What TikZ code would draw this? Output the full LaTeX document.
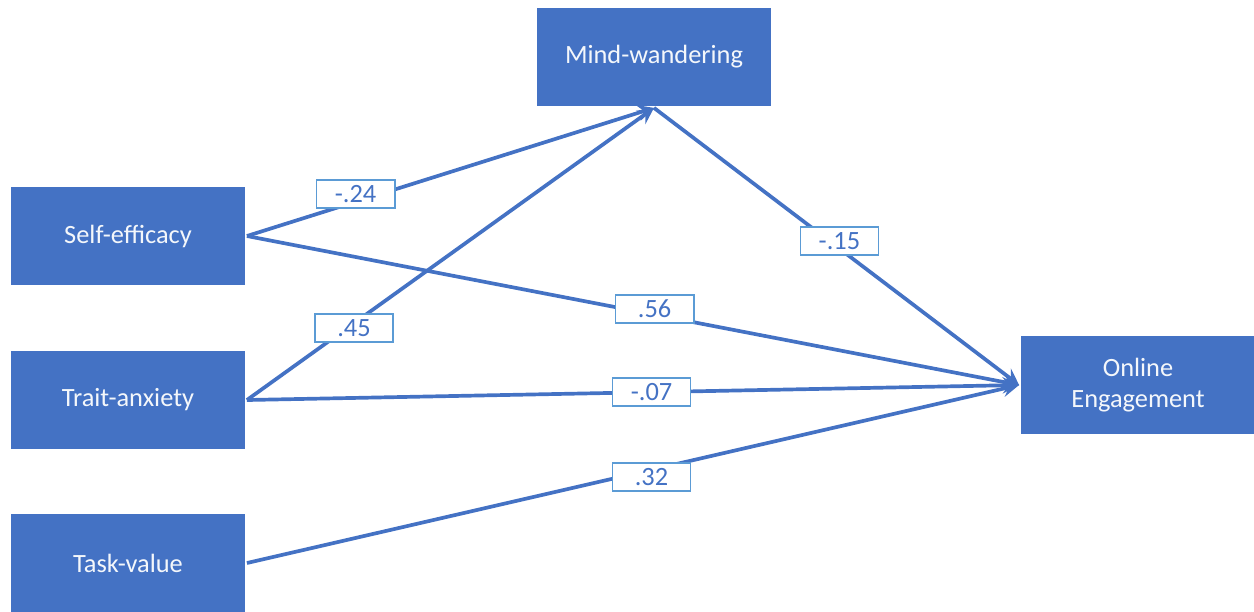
\documentclass[tikz,border=0pt]{standalone}
\usepackage{fontspec}
\setmainfont{Carlito}
\definecolor{boxblue}{RGB}{68,114,196}
\definecolor{lblblue}{RGB}{91,155,213}
\begin{document}
\begin{tikzpicture}[x=0.01cm,y=-0.01cm,>=stealth,line width=1.05pt,
  box/.style={fill=boxblue,draw=none,minimum width=2.34cm,minimum height=0.98cm,
    text=white!94!boxblue,font=\fontsize{7.5}{9}\selectfont,align=center},
  lbl/.style={fill=white,draw=lblblue,line width=0.5pt,minimum width=0.78cm,
    minimum height=0.28cm,inner sep=0pt,text=boxblue,font=\fontsize{7.5}{9}\selectfont}]
  \useasboundingbox (0,0) rectangle (1254,611);

  % 变量方框
  \node[box] (MW) at (654,57) {Mind-wandering};
  \node[box] (SE) at (128,236) {Self-efficacy};
  \node[box] (TA) at (128,400) {Trait-anxiety};
  \node[box] (TV) at (128,563) {Task-value};
  \node[box] (OE) at (1138,385) {Online\\Engagement};

  % 路径及系数
  \draw[->,boxblue] (SE.east) -- node[lbl,pos=0.267,yshift=0.08cm] {-.24} (MW.south);
  \draw[->,boxblue] (TA.east) -- node[lbl,pos=0.263,yshift=-0.05cm] {.45} (MW.south);
  \draw[->,boxblue] (MW.south) -- node[lbl,pos=0.508,yshift=0.08cm] {-.15} (OE.west);
  \draw[->,boxblue] (SE.east) -- node[lbl,pos=0.528,yshift=0.06cm] {.56} (OE.west);
  \draw[->,boxblue] (TA.east) -- node[lbl,pos=0.524] {-.07} (OE.west);
  \draw[->,boxblue] (TV.east) -- node[lbl,pos=0.524,yshift=-0.07cm] {.32} (OE.west);
\end{tikzpicture}
\end{document}
